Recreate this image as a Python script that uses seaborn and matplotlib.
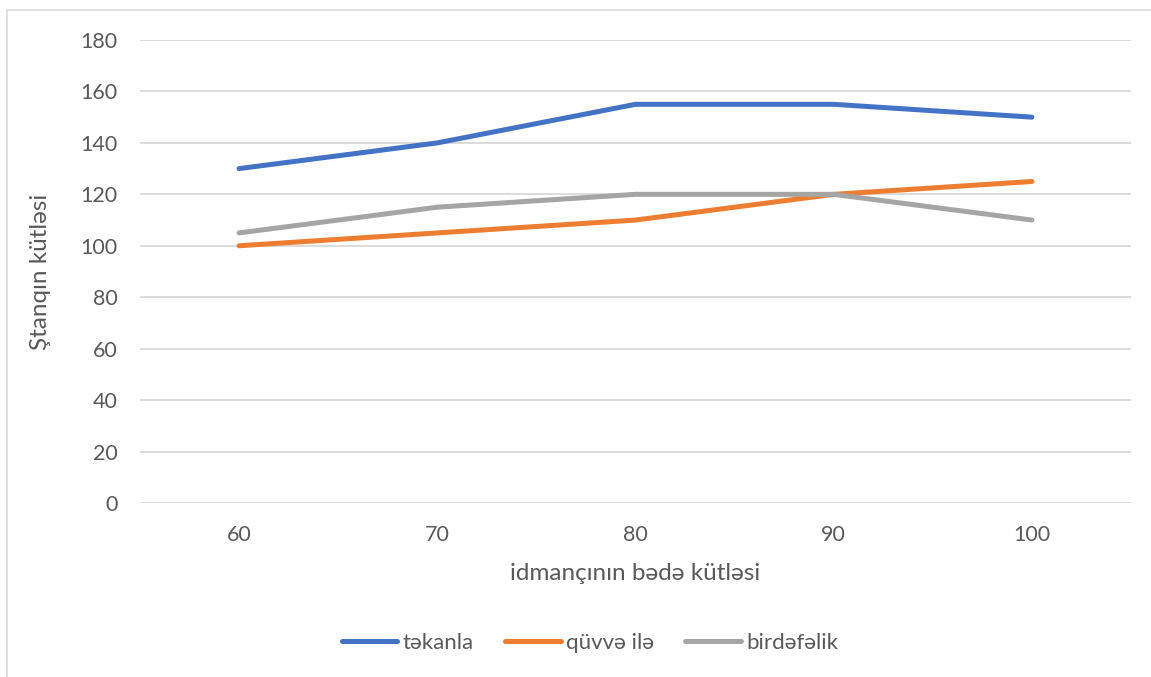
import matplotlib
matplotlib.use("Agg")
import matplotlib.pyplot as plt
from matplotlib.patches import Rectangle
import seaborn as sns
import pandas as pd

# Body mass of the athlete (categories on the x axis)
body_mass = [60, 70, 80, 90, 100]

# Barbell mass for each lifting style
tekanla = [130, 140, 155, 155, 150]
quvve_ile = [100, 105, 110, 120, 125]
birdefelik = [105, 115, 120, 120, 110]

series_names = ["təkanla", "qüvvə ilə", "birdəfəlik"]
colors = ["#4472C4", "#ED7D31", "#A5A5A5"]

y_ticks = [0, 20, 40, 60, 80, 100, 120, 140, 160, 180]

df = pd.DataFrame({
    "mass": body_mass * 3,
    "value": tekanla + quvve_ile + birdefelik,
    "series": [series_names[0]] * 5 + [series_names[1]] * 5 + [series_names[2]] * 5,
})

sns.set_theme(style="white")
plt.rcParams["font.family"] = ["Lato", "DejaVu Sans"]
text_color = "#595959"

W, H = 1151, 677
fig = plt.figure(figsize=(W / 100, H / 100), dpi=100)
ax = fig.add_axes([140 / W, 1 - 503 / H, (1131 - 140) / W, (503 - 40) / H])

sns.lineplot(
    data=df, x="mass", y="value", hue="series", hue_order=series_names,
    palette=colors, linewidth=3.6, ax=ax, legend=False,
    solid_capstyle="round", sort=False,
)

ax.set_xlim(55, 105)
ax.set_ylim(0, 180)
ax.set_xticks(body_mass)
ax.set_xticklabels([str(v) for v in body_mass])
ax.set_yticks(y_ticks)
ax.set_yticklabels([str(v) for v in y_ticks])
ax.yaxis.grid(True, color="#D9D9D9", linewidth=1.3)
ax.xaxis.grid(False)
ax.set_axisbelow(True)
for s in ax.spines.values():
    s.set_visible(False)
ax.tick_params(axis="both", length=0, labelsize=15.5, labelcolor=text_color)
ax.tick_params(axis="y", pad=16)
ax.tick_params(axis="x", pad=16)

ax.set_xlabel("idmançının bədə kütləsi", fontsize=17.5, color=text_color, labelpad=13)
ax.set_ylabel("Ştanqın kütləsi", fontsize=17.5, color=text_color, labelpad=21)

# Legend along the bottom
handles = [plt.Line2D([0], [0], color=c, linewidth=3.6, solid_capstyle="round") for c in colors]
fig.legend(
    handles, series_names, loc="center", bbox_to_anchor=(590 / W, 1 - 643 / H),
    ncol=3, frameon=False, fontsize=16, labelcolor=text_color,
    handlelength=2.5, handletextpad=0.25, columnspacing=1.4,
)

# Chart frame
fig.patches.append(Rectangle((7 / W, -0.05), 1.2, 1 - 10 / H + 0.05,
                             transform=fig.transFigure, fill=False,
                             edgecolor="#D9D9D9", linewidth=1.2))

fig.savefig("out.png", dpi=100, facecolor="white")
